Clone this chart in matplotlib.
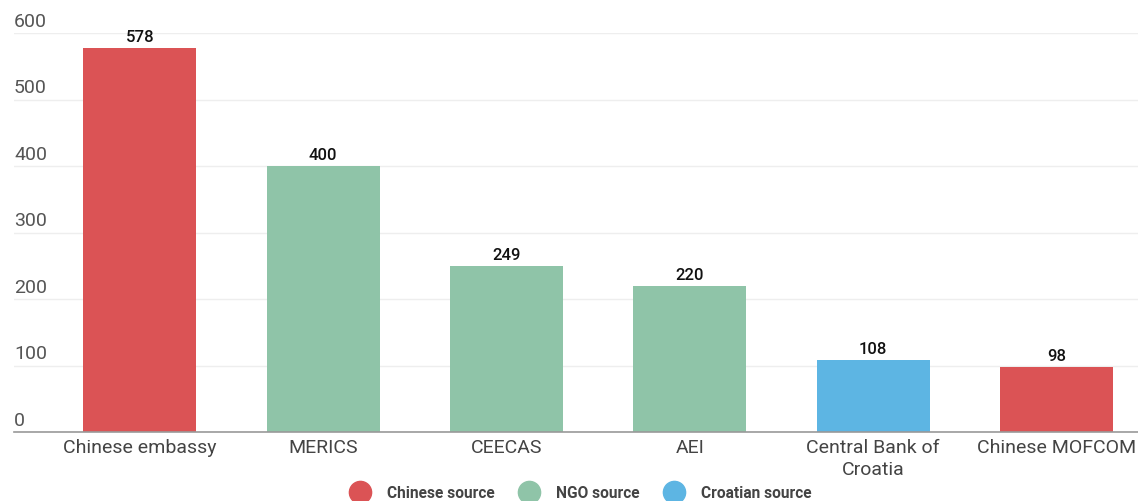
import matplotlib.pyplot as plt
from matplotlib.lines import Line2D

plt.rcParams['font.family'] = ['Roboto', 'DejaVu Sans']

sources = ["Chinese embassy", "MERICS", "CEECAS", "AEI", "Central Bank of\nCroatia", "Chinese MOFCOM"]
values = [578, 400, 249, 220, 108, 98]
kinds = ["Chinese source", "NGO source", "NGO source", "NGO source", "Croatian source", "Chinese source"]
yticks = [0, 100, 200, 300, 400, 500, 600]

colors = {"Chinese source": "#db5355", "NGO source": "#8fc4a8", "Croatian source": "#5db5e3"}

fig = plt.figure(figsize=(11.38, 5.02), dpi=100)
ax = fig.add_axes([14 / 1138, 69 / 502, 1 - 14 / 1138, 399 / 502])

x = range(len(sources))
ax.bar(x, values, width=0.617, color=[colors[k] for k in kinds], zorder=2)

for i, v in enumerate(values):
    ax.text(i, v + 6, str(v), ha="center", va="bottom", fontsize=12,
            fontweight="medium", color="#111111")

ax.set_ylim(0, 600)
ax.set_xlim(-0.686, 5.445)
ax.set_yticks(yticks)
ax.set_yticklabels([])
ax.tick_params(axis="y", length=0)
ax.grid(axis="y", color="#eeeeee", linewidth=1, zorder=0)
for t in yticks:
    ax.text(0, t + 5, str(t), transform=ax.get_yaxis_transform(), ha="left",
            va="bottom", fontsize=14, color="#555555")

ax.set_xticks(list(x))
ax.set_xticklabels(sources, fontsize=14, color="#444444", linespacing=1.3)
ax.tick_params(axis="x", length=0, pad=4)

for s in ["top", "right", "left"]:
    ax.spines[s].set_visible(False)
ax.spines["bottom"].set_color("#999999")
ax.spines["bottom"].set_linewidth(1.2)

handles = [Line2D([], [], marker="o", linestyle="", markersize=16,
                  markerfacecolor=colors[k], markeredgecolor=colors[k], label=k)
           for k in ["Chinese source", "NGO source", "Croatian source"]]
leg = fig.legend(handles=handles, loc="center", bbox_to_anchor=(578 / 1138, 1 - 494 / 502),
                 ncol=3, frameon=False, handletextpad=0.75, columnspacing=1.2,
                 prop={"size": 11.2, "weight": "bold"})
for t in leg.get_texts():
    t.set_color("#444444")

fig.savefig("out.png", dpi=100)
